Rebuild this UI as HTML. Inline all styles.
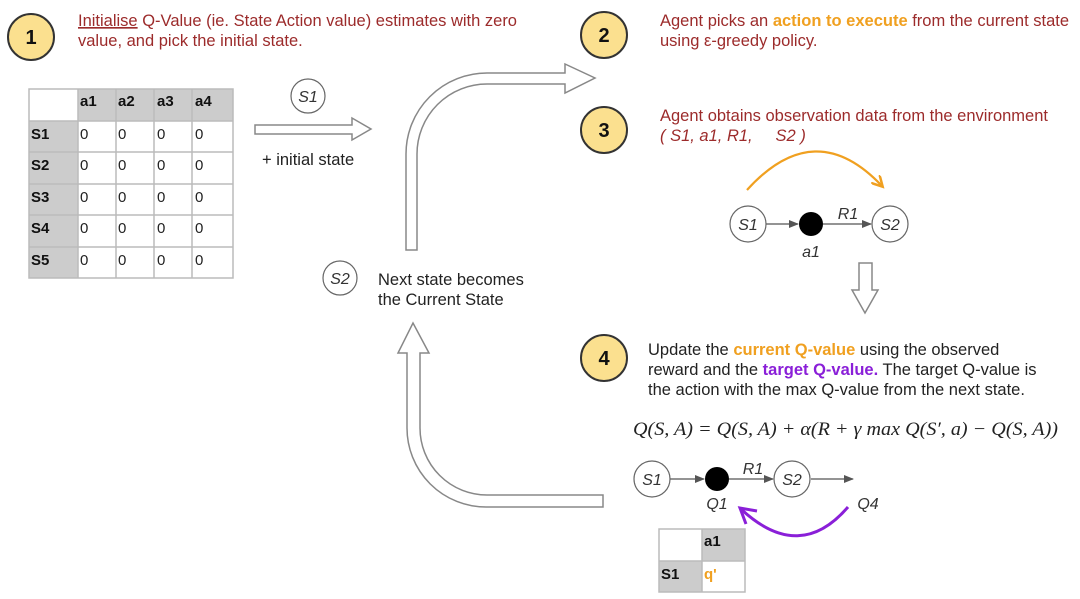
<!DOCTYPE html>
<html><head><meta charset="utf-8"><style>
html,body{margin:0;padding:0;background:#fff;}
svg{display:block;}
text{font-family:"Liberation Sans",sans-serif;}
text.f{font-family:"Liberation Serif",serif;}
</style></head><body>
<svg width="1080" height="599" viewBox="0 0 1080 599" xmlns="http://www.w3.org/2000/svg">
<defs>
<marker id="ga" markerWidth="10" markerHeight="8" refX="9" refY="4" orient="auto" markerUnits="userSpaceOnUse"><path d="M0,0 L10,4 L0,8 z" fill="#555"/></marker>
<marker id="oa" markerWidth="14" markerHeight="12" refX="10" refY="6" orient="auto" markerUnits="userSpaceOnUse"><path d="M0,0 L11,6 L0,12" fill="none" stroke="#f0a020" stroke-width="2.5"/></marker>
</defs>

<g stroke="#333" stroke-width="2" fill="#fbe08f">
<circle cx="31" cy="37" r="23"/><circle cx="604" cy="35" r="23"/>
<circle cx="604" cy="130" r="23"/><circle cx="604" cy="358" r="23"/>
</g>
<g font-size="20" font-weight="bold" text-anchor="middle" fill="#111">
<text x="31" y="44">1</text><text x="604" y="42">2</text>
<text x="604" y="137">3</text><text x="604" y="365">4</text>
</g>

<g font-size="16.5" fill="#9c2b2b">
<text x="78" y="26"><tspan text-decoration="underline">Initialise</tspan> Q-Value (ie. State Action value) estimates with zero</text>
<text x="78" y="46">value, and pick the initial state.</text>
<text x="660" y="26">Agent picks an <tspan fill="#f0a020" font-weight="bold">action to execute</tspan> from the current state</text>
<text x="660" y="46">using ε-greedy policy.</text>
<text x="660" y="121">Agent obtains observation data from the environment</text>
<text x="660" y="141" font-style="italic">( S1, a1, R1,&#160;&#160;&#160;&#160; S2 )</text>
</g>
<g font-size="16.5" fill="#222">
<text x="648" y="355">Update the <tspan fill="#f0a020" font-weight="bold">current Q-value</tspan> using the observed</text>
<text x="648" y="375">reward and the <tspan fill="#8a1fd8" font-weight="bold">target Q-value.</tspan> The target Q-value is</text>
<text x="648" y="395">the action with the max Q-value from the next state.</text>
</g>
<text class="f" x="633" y="435" font-style="italic" font-size="19" fill="#222" textLength="425" lengthAdjust="spacingAndGlyphs">Q(S, A) = Q(S, A) + α(R + γ max Q(S′, a) − Q(S, A))</text>

<g>
<rect x="78" y="89" width="155" height="32" fill="#ccc"/>
<rect x="29" y="121" width="49" height="157" fill="#ccc"/>
<g stroke="#bbb" stroke-width="1.5" fill="none">
<rect x="29" y="89" width="204" height="189"/>
<line x1="78" y1="89" x2="78" y2="278"/><line x1="116" y1="89" x2="116" y2="278"/>
<line x1="154" y1="89" x2="154" y2="278"/><line x1="192" y1="89" x2="192" y2="278"/>
<line x1="29" y1="121" x2="233" y2="121"/><line x1="29" y1="152" x2="233" y2="152"/>
<line x1="29" y1="184" x2="233" y2="184"/><line x1="29" y1="215" x2="233" y2="215"/>
<line x1="29" y1="247" x2="233" y2="247"/>
</g>
<g font-size="15" font-weight="bold" fill="#111">
<text x="80" y="106">a1</text><text x="118" y="106">a2</text><text x="157" y="106">a3</text><text x="195" y="106">a4</text>
<text x="31" y="139">S1</text><text x="31" y="170">S2</text><text x="31" y="202">S3</text><text x="31" y="233">S4</text><text x="31" y="265">S5</text>
</g>
<g font-size="15" fill="#222">
<text x="80" y="139">0</text><text x="118" y="139">0</text><text x="157" y="139">0</text><text x="195" y="139">0</text>
<text x="80" y="170">0</text><text x="118" y="170">0</text><text x="157" y="170">0</text><text x="195" y="170">0</text>
<text x="80" y="202">0</text><text x="118" y="202">0</text><text x="157" y="202">0</text><text x="195" y="202">0</text>
<text x="80" y="233">0</text><text x="118" y="233">0</text><text x="157" y="233">0</text><text x="195" y="233">0</text>
<text x="80" y="265">0</text><text x="118" y="265">0</text><text x="157" y="265">0</text><text x="195" y="265">0</text>
</g>
</g>

<g fill="#fff" stroke="#888" stroke-width="1.5" stroke-linejoin="miter">
<path d="M255,125 L352,125 L352,118 L371,129 L352,140 L352,134 L255,134 Z"/>
<path d="M406,250 L406,154 A81,81 0 0 1 487,73 L565,73 L565,64 L595,78 L565,93 L565,84 L487,84 A70,70 0 0 0 417,154 L417,250 Z"/>
<path d="M603,495 L487,495 A67,67 0 0 1 420,428 L420,353 L429,353 L413,323 L398,353 L407,353 L407,428 A79,79 0 0 0 486,507 L603,507 Z"/>
<path d="M859,263 L872,263 L872,290 L878,290 L865,313 L852,290 L859,290 Z"/>
</g>

<g fill="#fff" stroke="#666" stroke-width="1.2">
<circle cx="308" cy="96" r="17"/><circle cx="340" cy="278" r="17"/>
</g>
<g font-size="16" font-style="italic" fill="#333" text-anchor="middle">
<text x="308" y="102">S1</text><text x="340" y="284">S2</text>
</g>
<text x="262" y="165" font-size="16.5" fill="#222">+ initial state</text>
<text x="378" y="285" font-size="16.5" fill="#222">Next state becomes</text>
<text x="378" y="305" font-size="16.5" fill="#222">the Current State</text>

<path d="M747,190 Q815,115 882,186" fill="none" stroke="#f0a020" stroke-width="2.2" marker-end="url(#oa)"/>
<g stroke="#555" stroke-width="1.3">
<line x1="766" y1="224" x2="798" y2="224" marker-end="url(#ga)"/>
<line x1="823" y1="224" x2="871" y2="224" marker-end="url(#ga)"/>
</g>
<g fill="#fff" stroke="#666" stroke-width="1.2"><circle cx="748" cy="224" r="18"/><circle cx="890" cy="224" r="18"/></g>
<circle cx="811" cy="224" r="12" fill="#000"/>
<g font-size="16" font-style="italic" fill="#333" text-anchor="middle">
<text x="748" y="230">S1</text><text x="890" y="230">S2</text><text x="811" y="257">a1</text><text x="848" y="219">R1</text>
</g>

<g stroke="#555" stroke-width="1.3">
<line x1="670" y1="479" x2="704" y2="479" marker-end="url(#ga)"/>
<line x1="729" y1="479" x2="773" y2="479" marker-end="url(#ga)"/>
<line x1="811" y1="479" x2="853" y2="479" marker-end="url(#ga)"/>
</g>
<g fill="#fff" stroke="#666" stroke-width="1.2"><circle cx="652" cy="479" r="18"/><circle cx="792" cy="479" r="18"/></g>
<circle cx="717" cy="479" r="12" fill="#000"/>
<g font-size="16" font-style="italic" fill="#333" text-anchor="middle">
<text x="652" y="485">S1</text><text x="792" y="485">S2</text><text x="753" y="474">R1</text>
<text x="717" y="509">Q1</text><text x="868" y="509">Q4</text>
</g>
<path d="M848,507 Q800,563 742,510" fill="none" stroke="#8a1fd8" stroke-width="3"/>
<path d="M757,511 L740,508 L746,524" stroke="#8a1fd8" stroke-width="3" fill="none" stroke-linejoin="miter"/>

<rect x="702" y="529" width="43" height="32" fill="#ccc"/>
<rect x="659" y="561" width="43" height="31" fill="#ccc"/>
<g stroke="#bbb" stroke-width="1.5" fill="none">
<rect x="659" y="529" width="86" height="63"/>
<line x1="702" y1="529" x2="702" y2="592"/><line x1="659" y1="561" x2="745" y2="561"/>
</g>
<text x="704" y="546" font-size="15" font-weight="bold" fill="#111">a1</text>
<text x="661" y="579" font-size="15" font-weight="bold" fill="#111">S1</text>
<text x="704" y="579" font-size="15" font-weight="bold" fill="#f0a020">q'</text>
</svg>
</body></html>
